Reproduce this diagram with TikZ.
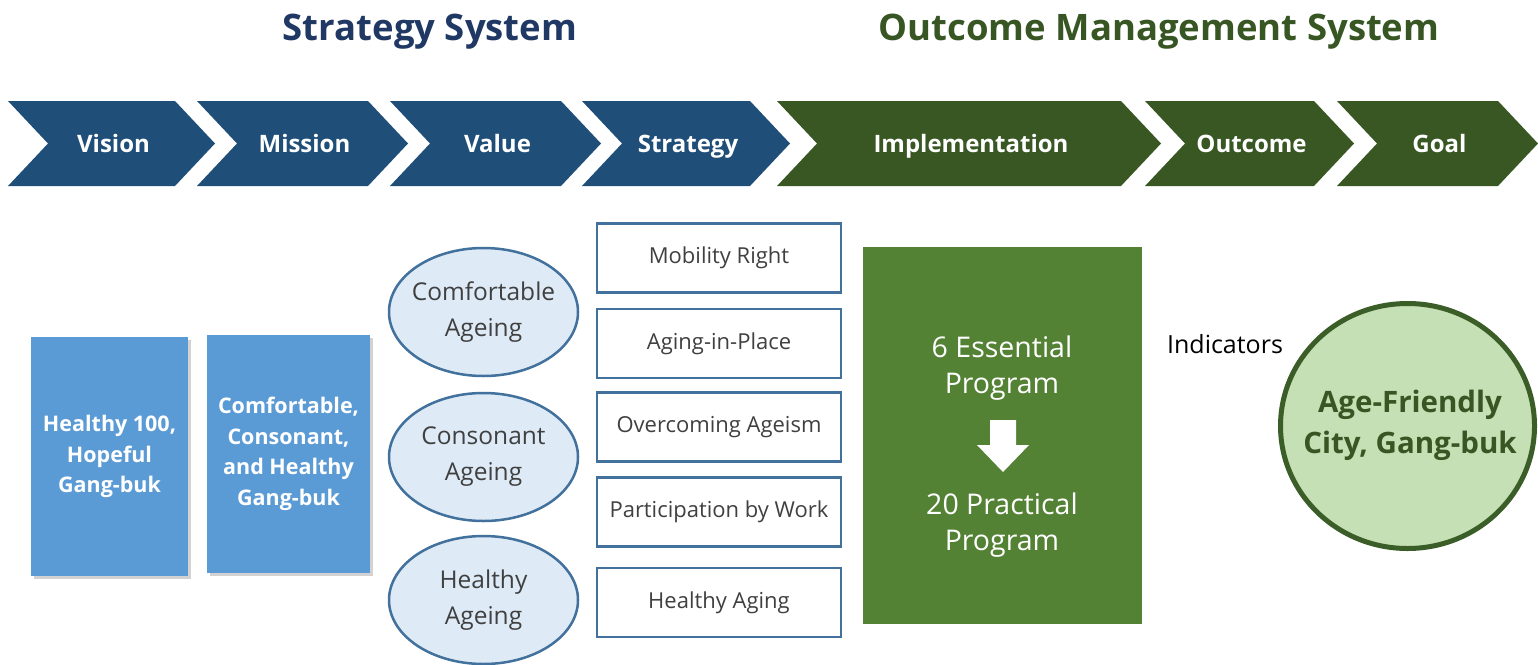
\documentclass[tikz,border=0pt]{standalone}
\usepackage{fontspec}
\setmainfont{Open Sans}
\usetikzlibrary{shapes.geometric,shadows}
\definecolor{dblue}{HTML}{1F4E79}
\definecolor{dgreen}{HTML}{385723}
\definecolor{hblue}{HTML}{203864}
\definecolor{hgreen}{HTML}{375623}
\definecolor{mblue}{HTML}{5B9BD5}
\definecolor{eblue}{HTML}{DEEBF7}
\definecolor{bord}{HTML}{41719C}
\definecolor{mgreen}{HTML}{548235}
\definecolor{lgreen}{HTML}{C5E0B4}
\definecolor{txt}{HTML}{404040}
\definecolor{cbord}{HTML}{3B5E28}
\newcommand\mychev[5]{%
  \fill[#3] (#1,101) -- (#2,101) -- ({#2+40},143.5) -- (#2,186) -- (#1,186) -- ({#1+40},143.5) -- cycle;
  \node[chevtext] (#4) at ({(#1+#2+40)/2+2},152) {#5};}
\tikzset{
  chevtext/.style={text=white,font=\fontsize{24}{28}\selectfont\bfseries,inner sep=0pt,anchor=base},
  header/.style={font=\fontsize{36.5}{42}\selectfont\bfseries,inner sep=0pt,anchor=base},
  lbox/.style={fill=mblue,text=white,align=center,inner sep=0pt,
    font=\fontsize{21.5}{30.5}\selectfont\bfseries,
    drop shadow={opacity=0.35,shadow xshift=3pt,shadow yshift=-3pt}},
  valell/.style={ellipse,draw=bord,line width=2.5pt,fill=eblue,
    minimum width=189pt,minimum height=128pt,inner sep=0pt},
  valtext/.style={text=txt,align=center,inner sep=0pt,font=\fontsize{24.5}{36}\selectfont},
  stratbox/.style={draw=bord,line width=2.5pt,fill=white,text=txt,minimum width=244pt,
    minimum height=69pt,inner sep=0pt,font=\fontsize{22}{26}\selectfont},
  gtext/.style={text=white,align=center,inner sep=0pt,font=\fontsize{28.5}{36}\selectfont},
}
\begin{document}
\begin{tikzpicture}[x=1pt,y=-1pt]
\useasboundingbox[fill=white] (0,0) rectangle (1538,664);
% headers
\node[header,text=hblue] (hs) at (430,40) {Strategy System};
\node[header,text=hgreen] (ho) at (1159,40) {Outcome Management System};
% chevrons
\mychev{8}{175}{dblue}{vision}{Vision}
\mychev{197}{368}{dblue}{mission}{Mission}
\mychev{390}{561}{dblue}{value}{Value}
\mychev{582}{750}{dblue}{strategy}{Strategy}
\mychev{777}{1121}{dgreen}{impl}{Implementation}
\mychev{1145}{1314}{dgreen}{outcome}{Outcome}
\mychev{1337}{1498}{dgreen}{goal}{Goal}
% vision / mission boxes
\node[lbox,minimum width=157pt,minimum height=239pt] (vbox) at (109.5,456.5) {Healthy 100,\\Hopeful\\Gang-buk};
\node[lbox,minimum width=163pt,minimum height=238pt] (mbox) at (288.5,454) {Comfortable,\\Consonant,\\and Healthy\\Gang-buk};
% value ellipses
\node[valell] (v1) at (483.5,312) {};
\node[valell] (v2) at (483.5,457) {};
\node[valell] (v3) at (483.5,600) {};
\node[valtext] (v1t) at (v1.center) {Comfortable\\Ageing};
\node[valtext] (v2t) at (v2.center) {Consonant\\Ageing};
\node[valtext] (v3t) at (v3.center) {Healthy\\Ageing};
% strategy boxes
\node[stratbox] (s1) at (719,258) {Mobility Right};
\node[stratbox] (s2) at (719,343.5) {Aging-in-Place};
\node[stratbox] (s3) at (719,427) {Overcoming Ageism};
\node[stratbox] (s4) at (719,512) {Participation by Work};
\node[stratbox] (s5) at (719,602.5) {Healthy Aging};
% implementation box
\node[fill=mgreen,minimum width=279pt,minimum height=377pt,inner sep=0pt] (ibox) at (1002.5,435.5) {};
\node[gtext] (ess) at (1002,368) {6 Essential\\Program};
\node[gtext] (prac) at (1002,525) {20 Practical\\Program};
\fill[white] (990,420) -- (1016,420) -- (1016,445) -- (1029,445) -- (1003,472) -- (977,445) -- (990,445) -- cycle;
% indicators
\node[inner sep=0pt,font=\fontsize{25}{30}\selectfont] (ind) at (1225,344) {Indicators};
% goal circle
\node[ellipse,draw=cbord,line width=5pt,fill=lgreen,minimum width=254pt,minimum height=245pt,
  inner sep=0pt] (city) at (1407.5,426) {};
\node[text=hgreen,align=center,inner sep=0pt,font=\fontsize{29.5}{41}\selectfont\bfseries] (cityt) at (1410,425) {Age-Friendly\\City, Gang-buk};
\end{tikzpicture}
\end{document}
